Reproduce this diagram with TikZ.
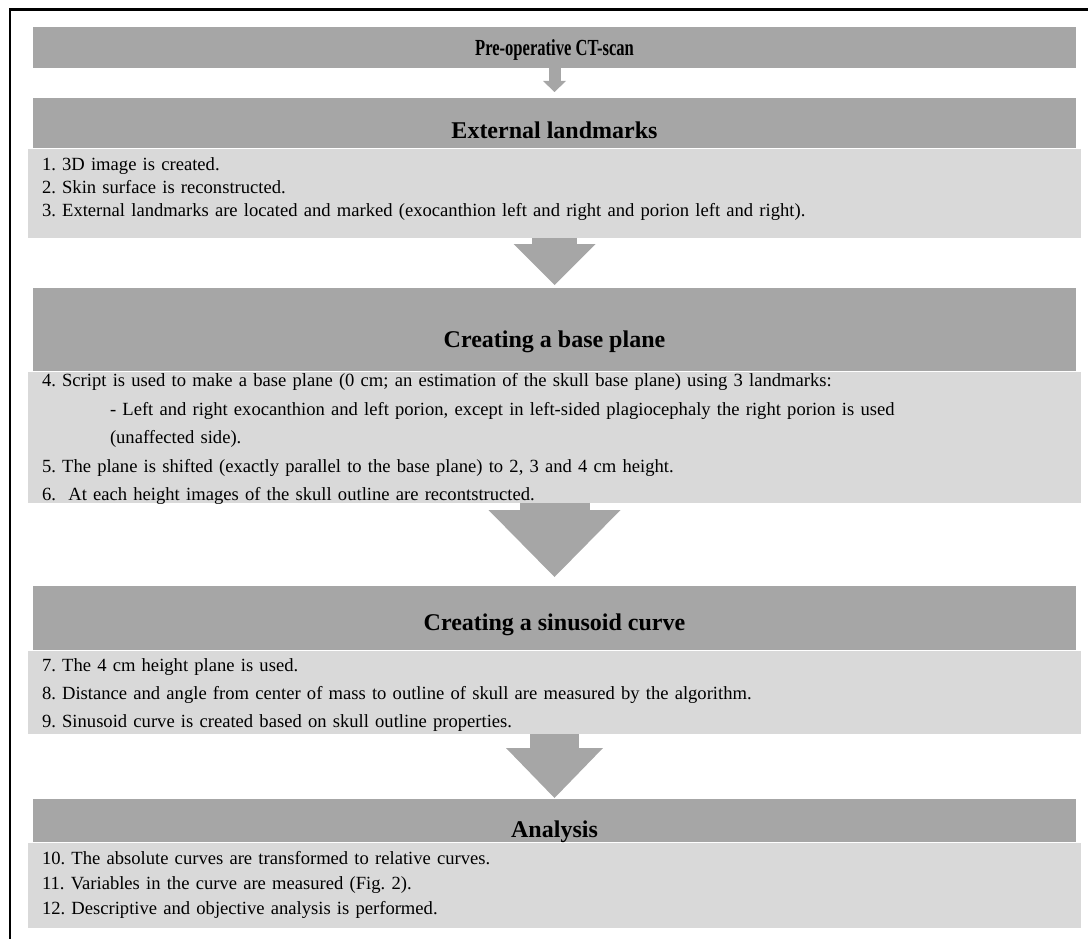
\documentclass[tikz,border=0pt]{standalone}
\usepackage{fontspec}
\setmainfont{Liberation Serif}
\newfontfamily\narrowserif[FakeStretch=0.72]{Liberation Serif}
\frenchspacing
\usetikzlibrary{arrows.meta,positioning}
\definecolor{headgray}{HTML}{A6A6A6}
\definecolor{bodygray}{HTML}{D9D9D9}

\begin{document}
\begin{tikzpicture}[x=1pt,y=-1pt,
                    head box/.style={rectangle,fill=headgray,inner sep=0pt,
                      minimum width=1043pt,anchor=north,
                      font=\fontsize{24}{28}\selectfont\bfseries},
                    body box/.style={rectangle,fill=bodygray,inner xsep=14pt,
                      inner ysep=0pt,text width=1025pt,align=left},
                    flow/.style={draw=headgray}
                   ]
   \useasboundingbox (0,0) rectangle (1088,939);
   \draw[line width=2.5pt] (10,939) -- (10,9.5) -- (1088,9.5);

   \node[head box,text height=28pt,text depth=13pt,
         font=\narrowserif\fontsize{23}{26}\selectfont\bfseries] (ct) at (554.5,27) {Pre-operative CT-scan};

   \node[head box,text height=40pt,text depth=10pt] (ext) at (554.5,98) {External landmarks};
   \node[body box,below=0pt of ext,text height=22pt,text depth=67pt,
         font=\fontsize{18.6}{23}\selectfont] (extlist) {%
     1. 3D image is created.\\
     2. Skin surface is reconstructed.\\
     3. External landmarks are located and marked (exocanthion left and right and porion left and right).};

   \node[head box,text height=59pt,text depth=24pt] (base) at (554.5,288) {Creating a base plane};
   \node[body box,below=0pt of base,text height=15pt,text depth=116pt,
         font=\fontsize{18.6}{28.5}\selectfont] (baselist) {%
     4. Script is used to make a base plane (0 cm; an estimation of the skull base plane) using 3 landmarks:\\
     \hspace*{68pt}- Left and right exocanthion and left porion, except in left-sided plagiocephaly the right porion is used\\
     \hspace*{68pt}(unaffected side).\\
     5. The plane is shifted (exactly parallel to the base plane) to 2, 3 and 4 cm height.\\
     6.\ \ At each height images of the skull outline are recontstructed.};

   \node[head box,text height=44pt,text depth=20pt] (sine) at (554.5,586) {Creating a sinusoid curve};
   \node[body box,below=0pt of sine,text height=21pt,text depth=62pt,
         font=\fontsize{18.6}{28}\selectfont] (sinelist) {%
     7. The 4 cm height plane is used.\\
     8. Distance and angle from center of mass to outline of skull are measured by the algorithm.\\
     9. Sinusoid curve is created based on skull outline properties.};

   \node[head box,text height=38pt,text depth=5pt] (ana) at (554.5,799) {Analysis};
   \node[body box,below=0pt of ana,text height=22pt,text depth=63pt,
         font=\fontsize{18.6}{25}\selectfont] (analist) {%
     10. The absolute curves are transformed to relative curves.\\
     11. Variables in the curve are measured (Fig. 2).\\
     12. Descriptive and objective analysis is performed.};

   % block arrows between the steps
   \draw[flow,line width=12pt,shorten >=6pt,
         -{Triangle[line width=0pt,width=23pt 0 0,length=11pt 0 0]}]
     (ct.south) -- (ct.south |- ext.north);
   \draw[flow,line width=45pt,shorten >=3pt,
         -{Triangle[line width=0pt,width=82pt 0 0,length=41pt 0 0]}]
     (extlist.south) -- (extlist.south |- base.north);
   \draw[flow,line width=70pt,shorten >=9pt,
         -{Triangle[line width=0pt,width=132pt 0 0,length=67pt 0 0]}]
     (baselist.south) -- (baselist.south |- sine.north);
   \draw[flow,line width=49pt,shorten >=1pt,
         -{Triangle[line width=0pt,width=97pt 0 0,length=50pt 0 0]}]
     (sinelist.south) -- (sinelist.south |- ana.north);
\end{tikzpicture}
\end{document}
